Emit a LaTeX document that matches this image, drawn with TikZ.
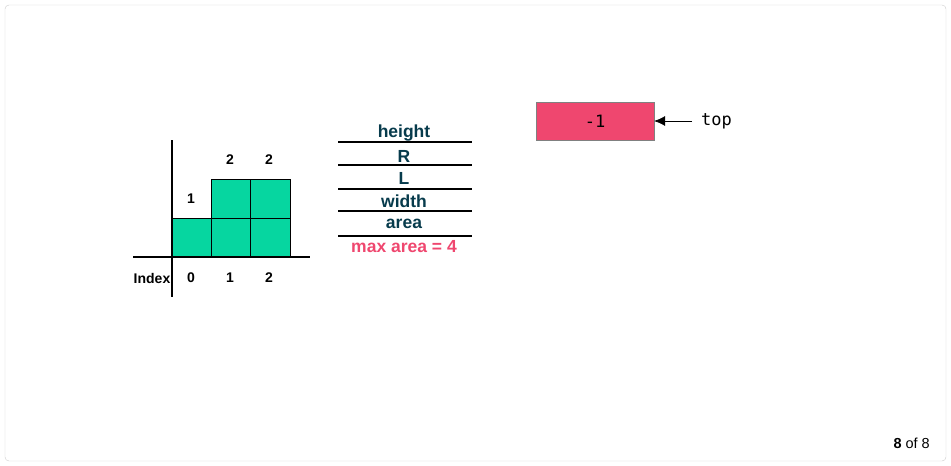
\documentclass[tikz,border=0pt]{standalone}
\usepackage{fontspec}
\setmainfont{Liberation Sans}
\setmonofont{DejaVu Sans Mono}
\usetikzlibrary{arrows.meta}
\definecolor{barcol}{HTML}{06D6A0}
\definecolor{redcol}{HTML}{EF476F}
\definecolor{inkcol}{HTML}{073B4C}
\tikzset{
  lbl/.style={font=\bfseries\fontsize{14}{16}\selectfont},
  tbl/.style={font=\bfseries\fontsize{17.5}{20}\selectfont,text=inkcol},
  mono/.style={font=\ttfamily\fontsize{17}{20}\selectfont}
}
\begin{document}
\begin{tikzpicture}[x=1pt,y=-1pt]
\useasboundingbox (0,0) rectangle (951,466);
\draw[rounded corners=4pt,black!20] (5,5) rectangle (946,461);

% bars
\fill[barcol] (172,218) rectangle (211,257);
\fill[barcol] (211,179) rectangle (290,257);
\draw[thin] (172,218) rectangle (211,257);
\draw[thin] (211,179) rectangle (250,218);
\draw[thin] (250,179) rectangle (290,218);
\draw[thin] (211,218) rectangle (250,257);
\draw[thin] (250,218) rectangle (290,257);
% axes
\draw[line width=1.5pt] (172,140) -- (172,297);
\draw[line width=1.5pt] (133,257) -- (310,257);

\node[lbl] (h0) at (191,199) {1};
\node[lbl] (h1) at (230,160) {2};
\node[lbl] (h2) at (269,160) {2};
\node[lbl] (ix) at (152,278) {Index};
\foreach \i/\x in {0/191,1/230,2/269} {
\node[lbl] (i\i) at (\x,278) {\i};
}

% table
\foreach \y in {142,165,189,211,236} {
\draw[line width=1.5pt] (338,\y) -- (472,\y);
}
\node[tbl] (height) at (404,133) {height};
\node[tbl] (R) at (404,156) {R};
\node[tbl] (L) at (404,178) {L};
\node[tbl] (width) at (404,201) {width};
\node[tbl] (area) at (404,224) {area};
\node[tbl,text=redcol] (maxarea) at (404,247) {max area = 4};

% stack
\node[mono,draw=black!50,fill=redcol,minimum width=118pt,minimum height=38pt,inner sep=0pt] (s0) at (595,121) {-1};
\node[mono,anchor=west,inner sep=0pt] (top) at (701,121) {top};
\draw[-{Latex[length=11pt,width=10pt]},semithick,shorten <=9pt] (top.west) -- (s0.east);

\node[font=\fontsize{14.5}{17}\selectfont,anchor=east,inner sep=0pt] (page) at (930,443) {\textbf{8} of 8};
\end{tikzpicture}
\end{document}
